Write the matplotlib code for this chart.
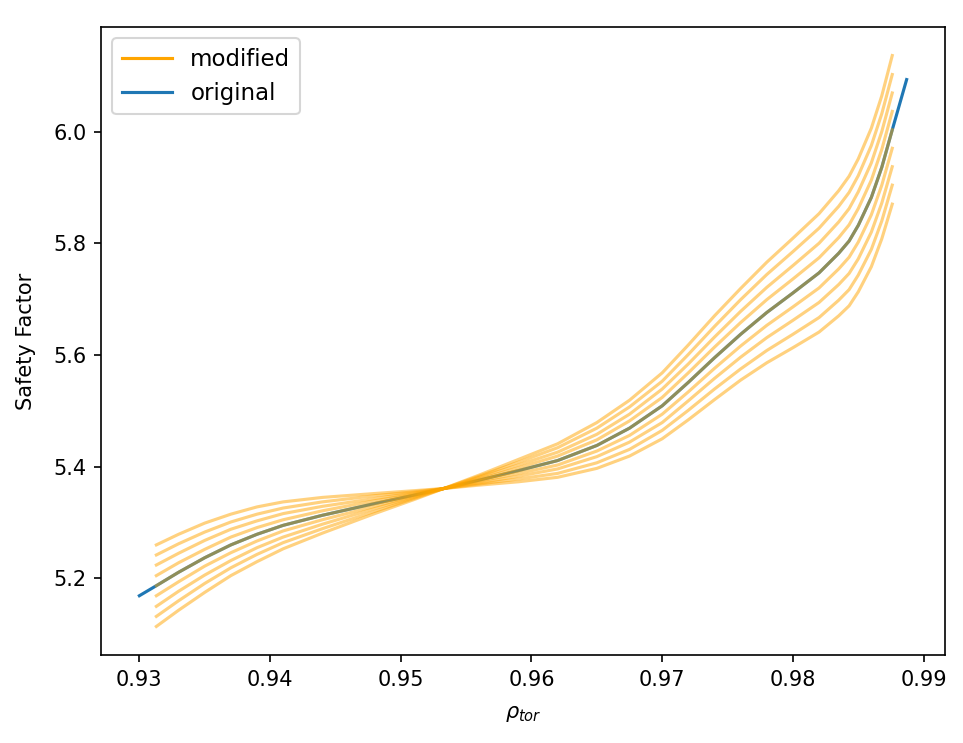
import matplotlib
matplotlib.use("Agg")
import matplotlib.pyplot as plt
from matplotlib.lines import Line2D

# original safety factor profile
rho_orig = [0.9300, 0.9313, 0.9330, 0.9350, 0.9370, 0.9390, 0.9410, 0.9440, 0.9480, 0.9510,
            0.9533, 0.9560, 0.9590, 0.9620, 0.9650, 0.9675, 0.9700, 0.9720, 0.9740, 0.9760,
            0.9780, 0.9800, 0.9820, 0.9835, 0.9843, 0.9850, 0.9860, 0.9868, 0.9876, 0.9887]
q_orig = [5.169, 5.187, 5.211, 5.237, 5.260, 5.279, 5.295, 5.313, 5.334, 5.349,
          5.361, 5.376, 5.393, 5.411, 5.438, 5.469, 5.509, 5.551, 5.595, 5.637,
          5.676, 5.711, 5.747, 5.782, 5.804, 5.832, 5.882, 5.936, 6.003, 6.093]

# modified profiles
rho_mod = [0.9313, 0.9330, 0.9350, 0.9370, 0.9390, 0.9410, 0.9440, 0.9480, 0.9510,
           0.9533, 0.9560, 0.9590, 0.9620, 0.9650, 0.9675, 0.9700, 0.9720, 0.9740, 0.9760,
           0.9780, 0.9800, 0.9820, 0.9835, 0.9843, 0.9850, 0.9860, 0.9868, 0.9876]
q_mod_1 = [5.260, 5.279, 5.299, 5.315, 5.328, 5.337, 5.345, 5.352, 5.357,
           5.361, 5.367, 5.373, 5.381, 5.397, 5.419, 5.450, 5.484, 5.520, 5.555,
           5.586, 5.613, 5.641, 5.670, 5.688, 5.713, 5.758, 5.808, 5.870]
q_mod_2 = [5.242, 5.262, 5.283, 5.301, 5.315, 5.326, 5.337, 5.348, 5.355,
           5.361, 5.369, 5.378, 5.388, 5.407, 5.431, 5.465, 5.501, 5.539, 5.575,
           5.608, 5.637, 5.667, 5.698, 5.717, 5.743, 5.789, 5.840, 5.904]
q_mod_3 = [5.224, 5.245, 5.268, 5.288, 5.303, 5.316, 5.329, 5.343, 5.353,
           5.361, 5.371, 5.383, 5.396, 5.418, 5.444, 5.479, 5.518, 5.558, 5.596,
           5.631, 5.662, 5.694, 5.726, 5.746, 5.772, 5.820, 5.872, 5.937]
q_mod_4 = [5.205, 5.228, 5.252, 5.274, 5.291, 5.305, 5.321, 5.339, 5.351,
           5.361, 5.374, 5.388, 5.403, 5.428, 5.456, 5.494, 5.534, 5.576, 5.616,
           5.653, 5.686, 5.720, 5.754, 5.775, 5.802, 5.851, 5.904, 5.970]
q_mod_5 = [5.187, 5.211, 5.237, 5.260, 5.279, 5.295, 5.313, 5.334, 5.349,
           5.361, 5.376, 5.393, 5.411, 5.438, 5.469, 5.509, 5.551, 5.595, 5.637,
           5.676, 5.711, 5.747, 5.782, 5.804, 5.832, 5.882, 5.936, 6.003]
q_mod_6 = [5.169, 5.194, 5.222, 5.246, 5.267, 5.285, 5.305, 5.329, 5.347,
           5.361, 5.378, 5.398, 5.419, 5.448, 5.482, 5.524, 5.568, 5.614, 5.658,
           5.699, 5.736, 5.774, 5.810, 5.833, 5.862, 5.913, 5.968, 6.036]
q_mod_7 = [5.150, 5.177, 5.206, 5.232, 5.255, 5.274, 5.297, 5.325, 5.345,
           5.361, 5.381, 5.403, 5.426, 5.458, 5.494, 5.539, 5.584, 5.632, 5.678,
           5.721, 5.760, 5.800, 5.838, 5.862, 5.892, 5.944, 6.000, 6.069]
q_mod_8 = [5.132, 5.160, 5.191, 5.219, 5.243, 5.264, 5.289, 5.320, 5.343,
           5.361, 5.383, 5.408, 5.434, 5.469, 5.507, 5.553, 5.601, 5.651, 5.699,
           5.744, 5.785, 5.827, 5.866, 5.891, 5.921, 5.975, 6.032, 6.102]
q_mod_9 = [5.114, 5.143, 5.175, 5.205, 5.230, 5.253, 5.281, 5.316, 5.341,
           5.361, 5.385, 5.413, 5.441, 5.479, 5.519, 5.568, 5.618, 5.670, 5.719,
           5.766, 5.809, 5.853, 5.894, 5.920, 5.951, 6.006, 6.064, 6.136]
q_mods = [q_mod_1, q_mod_2, q_mod_3, q_mod_4, q_mod_5, q_mod_6, q_mod_7, q_mod_8, q_mod_9]

x_ticks = [0.93, 0.94, 0.95, 0.96, 0.97, 0.98, 0.99]
y_ticks = [5.2, 5.4, 5.6, 5.8, 6.0]

fig = plt.figure(figsize=(963 / 150, 743 / 150), dpi=150)
ax = fig.add_axes([101 / 963, 1 - 655 / 743, (945 - 101) / 963, (655 - 27) / 743])

ax.plot(rho_orig, q_orig, color="C0", lw=1.5)
for qm in q_mods:
    ax.plot(rho_mod, qm, color="orange", alpha=0.5, lw=1.5)

ax.set_xticks(x_ticks)
ax.set_yticks(y_ticks)
ax.set_xlabel(r"$\rho_{tor}$", labelpad=7)
ax.set_ylabel("Safety Factor", labelpad=8)

handles = [Line2D([0], [0], color="orange", lw=1.5),
           Line2D([0], [0], color="C0", lw=1.5)]
ax.legend(handles, ["modified", "original"], loc="upper left", fontsize=11,
          handlelength=2.2)

fig.savefig("out.png", dpi=150)
